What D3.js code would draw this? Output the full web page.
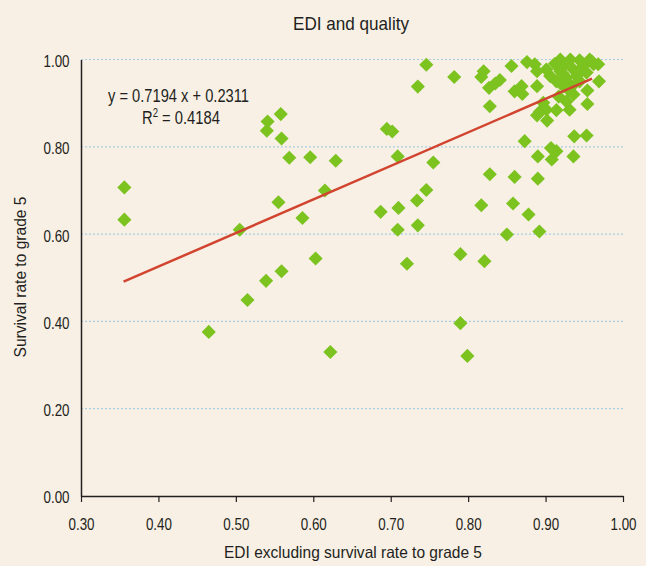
<!DOCTYPE html>
<html><head><meta charset="utf-8">
<script src="https://cdn.jsdelivr.net/npm/d3@7"></script>
<style>
html,body{margin:0;padding:0;background:#f8f0e5;}
svg{display:block;}
text{font-family:"Liberation Sans",Arial,sans-serif;fill:#231f20;}
</style></head>
<body>
<script>
// EDI excluding survival rate to grade 5 (x) vs survival rate to grade 5 (y)
const ediValues = [0.356,0.356,0.465,0.505,0.515,0.539,0.559,0.555,0.586,0.603,0.615,0.622,
 0.541,0.540,0.558,0.559,0.569,0.596,0.629,0.746,0.735,0.782,0.695,0.702,0.709,0.755,0.746,
 0.734,0.710,0.687,0.709,0.735,0.850,0.892,0.817,0.828,0.860,0.890,0.858,0.878,0.873,0.890,
 0.907,0.914,0.908,0.937,0.953,0.936,0.828,0.817,0.820,0.827,0.835,0.841,0.856,0.860,0.869,
 0.870,0.876,0.886,0.889,0.889,0.901,0.906,0.914,0.897,0.893,0.901,0.889,0.902,0.914,0.931,
 0.927,0.936,0.954,0.954,0.969,0.919,0.932,0.944,0.957,0.968,0.923,0.936,0.949,0.923,0.940,
 0.953,0.962,0.927,0.944,0.934,0.923,0.919,0.790,0.821,0.721,0.790,0.799,0.912,0.926,0.945,
 0.960,0.930,0.917];
const survivalValues = [0.707,0.633,0.376,0.610,0.449,0.493,0.515,0.673,0.637,0.544,0.700,0.330,
 0.858,0.837,0.875,0.819,0.775,0.776,0.768,0.988,0.938,0.960,0.841,0.835,0.778,0.764,0.701,
 0.677,0.660,0.651,0.610,0.620,0.599,0.606,0.666,0.737,0.731,0.727,0.670,0.645,0.813,0.778,
 0.797,0.790,0.771,0.824,0.826,0.778,0.893,0.960,0.973,0.935,0.945,0.953,0.985,0.927,0.939,
 0.921,0.994,0.989,0.939,0.973,0.977,0.962,0.950,0.901,0.881,0.885,0.872,0.860,0.884,0.885,
 0.904,0.920,0.898,0.929,0.950,1.000,1.000,0.998,1.000,0.989,0.985,0.977,0.985,0.966,0.962,
 0.970,0.989,0.950,0.950,0.939,0.939,0.973,0.554,0.538,0.532,0.396,0.321,0.990,0.958,0.975,
 0.995,0.930,0.915];
// fitted trend line end points as drawn
const trendX = [0.355, 0.96];
const trendY = [0.491, 0.956];
const xTicks = [0.30,0.40,0.50,0.60,0.70,0.80,0.90,1.00];
const yTicks = [0.00,0.20,0.40,0.60,0.80,1.00];
const titleText = "EDI and quality";
const xLabel = "EDI excluding survival rate to grade 5";
const yLabel = "Survival rate to grade 5";
const eqText = "y = 0.7194 x + 0.2311";
const r2Value = "0.4184";

const W = 646, H = 566;
const m = {left:81, right:23, top:59.5, bottom:70};
const svg = d3.select("body").append("svg").attr("width",W).attr("height",H);
svg.append("rect").attr("width",W).attr("height",H).attr("fill","#f8f0e5");

const x = d3.scaleLinear().domain([0.3,1.0]).range([m.left, W-m.right]);
const y = d3.scaleLinear().domain([0,1]).range([H-m.bottom, m.top]);

// gridlines
svg.append("g").selectAll("line").data(yTicks.filter(d=>d>0)).join("line")
  .attr("x1",x(0.3)).attr("x2",x(1.0)).attr("y1",d=>y(d)).attr("y2",d=>y(d))
  .attr("stroke","#a6cde2").attr("stroke-width",1.2).attr("stroke-dasharray","2,2");

// x axis
const xAxis = d3.axisBottom(x).tickValues(xTicks).tickFormat(d3.format(".2f")).tickSize(6).tickSizeOuter(0);
const gx = svg.append("g").attr("transform",`translate(0,${y(0)})`).call(xAxis);
gx.select(".domain").attr("stroke","#231f20").attr("stroke-width",1.5);
gx.selectAll(".tick line").attr("stroke","#231f20").attr("stroke-width",1.2);
gx.selectAll(".tick text").attr("font-size",16.5).attr("y",33.5).attr("dy",0)
  .attr("textLength",26).attr("lengthAdjust","spacingAndGlyphs").attr("fill","#231f20");

// y axis
const yAxis = d3.axisLeft(y).tickValues(yTicks).tickFormat(d3.format(".2f")).tickSize(0).tickPadding(11.5);
const gy = svg.append("g").attr("transform",`translate(${x(0.3)},0)`).call(yAxis);
gy.select(".domain").attr("stroke","#231f20").attr("stroke-width",1.5);
gy.selectAll(".tick text").attr("font-size",16.5).attr("dy","0.42em")
  .attr("textLength",26).attr("lengthAdjust","spacingAndGlyphs").attr("fill","#231f20");
svg.selectAll(".tick text").attr("font-family",null);

// points
const pts = ediValues.map((v,i)=>({x:v,y:survivalValues[i]}));
const sym = d3.symbol().type(d3.symbolSquare).size(100);
svg.append("g").selectAll("path").data(pts).join("path")
  .attr("d",sym)
  .attr("transform",d=>`translate(${x(d.x)},${y(d.y)}) rotate(45)`)
  .attr("fill","#7cc320");

// trend line
svg.append("line")
  .attr("x1",x(trendX[0])).attr("y1",y(trendY[0]))
  .attr("x2",x(trendX[1])).attr("y2",y(trendY[1]))
  .attr("stroke","#d1442f").attr("stroke-width",2.5);

// equation
svg.append("text").attr("x",108).attr("y",102).attr("font-size",18.5)
  .attr("textLength",141).attr("lengthAdjust","spacingAndGlyphs").text(eqText);
const r2 = svg.append("text").attr("x",142).attr("y",124).attr("font-size",18.5);
r2.append("tspan").text("R");
r2.append("tspan").attr("font-size",12).attr("dy",-7).text("2");
r2.append("tspan").attr("dy",7).text(" = " + r2Value);
const r2w = r2.node().getComputedTextLength();
r2.attr("transform",`translate(142,0) scale(${78/r2w},1) translate(-142,0)`);

// title & labels
svg.append("text").attr("x",351).attr("y",30).attr("text-anchor","middle").attr("font-size",19)
  .attr("textLength",116).attr("lengthAdjust","spacingAndGlyphs").text(titleText);
svg.append("text").attr("x",353).attr("y",558).attr("text-anchor","middle").attr("font-size",16.5)
  .attr("textLength",258).attr("lengthAdjust","spacingAndGlyphs").text(xLabel);
svg.append("text").attr("transform","translate(26,277) rotate(-90)").attr("text-anchor","middle").attr("font-size",16.5)
  .attr("textLength",161).attr("lengthAdjust","spacingAndGlyphs").text(yLabel);
</script>
</body></html>
